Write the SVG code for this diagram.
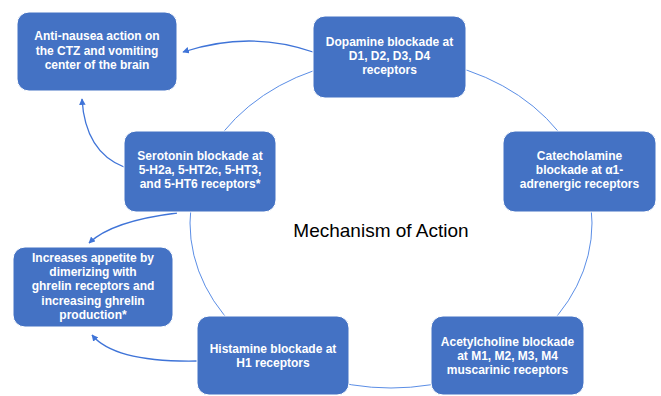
<svg xmlns="http://www.w3.org/2000/svg" width="661" height="396" viewBox="0 0 661 396">
<style>
.box{fill:#4472C4;stroke:#ffffff;stroke-width:1}
.t{font-family:"Liberation Sans",Arial,sans-serif;font-weight:bold;font-size:12px;fill:#ffffff;text-anchor:middle}
.ring{fill:none;stroke:#5b8ee6;stroke-width:1}
.arr{fill:none;stroke:#3f74d8;stroke-width:1.3;marker-end:url(#ah)}
.title{font-family:"Liberation Sans",Arial,sans-serif;font-size:19px;fill:#000000;text-anchor:middle}
</style>
<defs>
<marker id="ah" viewBox="0 0 10 10" refX="9" refY="5" markerWidth="5" markerHeight="5" orient="auto" markerUnits="strokeWidth">
<path d="M0,0 L10,5 L0,10 z" fill="#3f74d8"/>
</marker>
</defs>
<rect width="661" height="396" fill="#ffffff"/>
<g id="connectors">
<ellipse class="ring" cx="391" cy="223" rx="201" ry="165"/>
<path class="arr" d="M313,52 Q250,30 183,52"/>
<path class="arr" d="M124,167 C96,156 84,132 82,99"/>
<path class="arr" d="M177,213 Q112,221 89,243"/>
<path class="arr" d="M197,361 C140,362 106,352 92,335"/>
</g>
<text class="title" x="381" y="237">Mechanism of Action</text>
<g id="anti-nausea">
<rect class="box" x="17" y="12" width="160" height="79" rx="12"/>
<text class="t" x="97" y="40">Anti-nausea action on</text>
<text class="t" x="97" y="55">the CTZ and vomiting</text>
<text class="t" x="97" y="69">center of the brain</text>
</g>
<g id="dopamine">
<rect class="box" x="313" y="16" width="153" height="82" rx="12"/>
<text class="t" x="389.5" y="46">Dopamine blockade at</text>
<text class="t" x="389.5" y="60">D1, D2, D3, D4</text>
<text class="t" x="389.5" y="74">receptors</text>
</g>
<g id="serotonin">
<rect class="box" x="124" y="131" width="152" height="81" rx="12"/>
<text class="t" x="200" y="160">Serotonin blockade at</text>
<text class="t" x="200" y="174">5-H2a, 5-HT2c, 5-HT3,</text>
<text class="t" x="200" y="188">and 5-HT6 receptors*</text>
</g>
<g id="catecholamine">
<rect class="box" x="503" y="131" width="153" height="81" rx="12"/>
<text class="t" x="579.5" y="160">Catecholamine</text>
<text class="t" x="579.5" y="174">blockade at α1-</text>
<text class="t" x="579.5" y="188">adrenergic receptors</text>
</g>
<g id="appetite">
<rect class="box" x="13" y="247" width="160" height="80" rx="12"/>
<text class="t" x="93" y="262">Increases appetite by</text>
<text class="t" x="93" y="276">dimerizing with</text>
<text class="t" x="93" y="290">ghrelin receptors and</text>
<text class="t" x="93" y="305">increasing ghrelin</text>
<text class="t" x="93" y="319">production*</text>
</g>
<g id="histamine">
<rect class="box" x="197" y="316" width="152" height="79" rx="12"/>
<text class="t" x="273" y="352.5">Histamine blockade at</text>
<text class="t" x="273" y="366.5">H1 receptors</text>
</g>
<g id="acetylcholine">
<rect class="box" x="431" y="316" width="153" height="79" rx="12"/>
<text class="t" x="507.5" y="346">Acetylcholine blockade</text>
<text class="t" x="507.5" y="360">at M1, M2, M3, M4</text>
<text class="t" x="507.5" y="374">muscarinic receptors</text>
</g>
</svg>
